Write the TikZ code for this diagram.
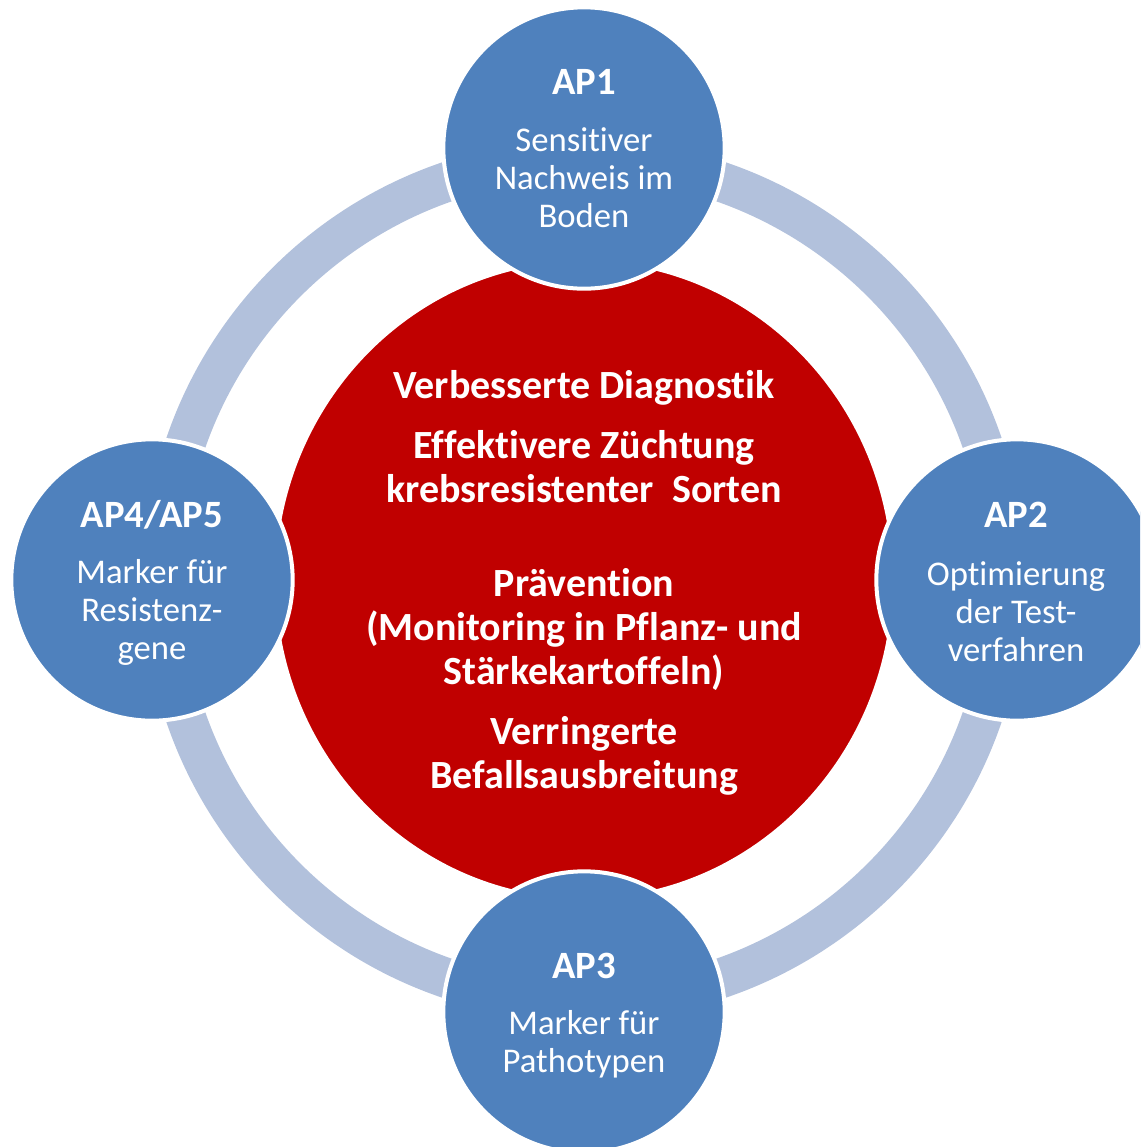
\documentclass[tikz,border=0pt]{standalone}
\usepackage{fontspec}
\setmainfont{Carlito}[Ligatures={NoCommon}]
\usetikzlibrary{shapes.geometric}
\definecolor{apblue}{HTML}{4F81BD}
\definecolor{ringblue}{HTML}{B2C1DC}
\definecolor{corered}{HTML}{C00000}
\tikzset{
  bluec/.style={circle, fill=apblue, draw=white, line width=3pt, minimum size=211pt, inner sep=0pt},
  corec/.style={ellipse, fill=corered, draw=white, line width=3pt, minimum width=465pt, minimum height=480pt, inner sep=0pt},
  hd/.style={text=white, font=\bfseries\fontsize{29}{28.5}\selectfont, align=center, inner sep=0pt},
  bd/.style={text=white, font=\fontsize{26}{28.5}\selectfont, align=center, inner sep=0pt},
  ct/.style={text=white, font=\bfseries\fontsize{30}{33}\selectfont, align=center, inner sep=0pt}
}
\begin{document}
\begin{tikzpicture}[x=0.75pt,y=-0.75pt]
\useasboundingbox (0,0) rectangle (1140,1147);
\clip (0,0) rectangle (1140,1147);
\coordinate (m) at (584,580);
\draw[ringblue, line width=30pt] (m) circle[radius=315.75pt];
\node[corec] (core) at (m) {};
\node[bluec] (ap1) at (584,148) {};
\node[bluec] (ap2) at (1017,580) {};
\node[bluec] (ap3) at (584,1012) {};
\node[bluec] (ap4) at (152,580) {};
% AP texts
\node[hd] (ap1h) at (584,82) {AP1};
\node[bd] (ap1b) at (584,178) {Sensitiver\\Nachweis im\\Boden};
\node[hd] (ap2h) at (1016,515) {AP2};
\node[bd] (ap2b) at (1016,612) {Optimierung\\der Test-\\verfahren};
\node[hd] (ap3h) at (584,966) {AP3};
\node[bd] (ap3b) at (584,1044) {Marker für\\Pathotypen};
\node[hd] (ap4h) at (152,515) {AP4/AP5};
\node[bd] (ap4b) at (152,612) {Marker für\\Resistenz-\\gene};
% centre texts
\node[ct] (c1) at (584,388) {Verbesserte Diagnostik};
\node[ct] (c2) at (584,467) {Effektivere Züchtung\\krebsresistenter\ \ Sorten};
\node[ct] (c3) at (584,629) {Prävention\\(Monitoring in Pflanz- und\\Stärkekartoffeln)};
\node[ct] (c4) at (584,756) {Verringerte\\Befallsausbreitung};
\end{tikzpicture}
\end{document}
